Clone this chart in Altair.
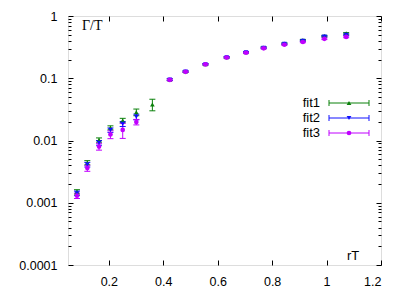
import altair as alt
import pandas as pd

# ---- data ----
rT = [0.083, 0.121, 0.164, 0.206, 0.251, 0.301, 0.36, 0.424, 0.482, 0.555,
      0.633, 0.704, 0.769, 0.845, 0.913, 0.992, 1.072]
fit1 = [0.00150, 0.0044, 0.0102, 0.0160, 0.0210, 0.0285, 0.038, 0.095, 0.128, 0.168,
        0.217, 0.262, 0.312, 0.362, 0.410, 0.478, 0.527]
fit1_err = [0.00012, 0.00035, 0.0008, 0.0012, 0.0017, 0.0035, 0.008, 0.003, 0.003, 0.004,
            0.005, 0.006, 0.007, 0.008, 0.010, 0.012, 0.014]
fit2 = [0.00142, 0.0041, 0.0092, 0.0147, 0.0185, 0.0240, None, 0.095, 0.128, 0.168,
        0.217, 0.261, 0.310, 0.358, 0.400, 0.470, 0.498]
fit2_err = [0.00012, 0.00035, 0.0008, 0.0012, 0.0017, 0.0025, None, 0.003, 0.003, 0.004,
            0.005, 0.006, 0.007, 0.008, 0.010, 0.012, 0.014]
fit3 = [0.00130, 0.0036, 0.0080, 0.0125, 0.0148, 0.0198, None, 0.094, 0.127, 0.167,
        0.215, 0.257, 0.302, 0.345, 0.382, 0.430, 0.462]
fit3_err = [0.00013, 0.0004, 0.0010, 0.0018, 0.0040, 0.0020, None, 0.003, 0.003, 0.004,
            0.005, 0.006, 0.007, 0.008, 0.010, 0.012, 0.014]

series = ["fit1", "fit2", "fit3"]
colors = ["#0a800a", "#1010ff", "#c000ff"]
shapes = ["triangle-up", "triangle-down", "circle"]

x_ticks = [0.2, 0.4, 0.6, 0.8, 1.0, 1.2]
y_ticks = [0.0001, 0.001, 0.01, 0.1, 1]
y_minor = [k * d for d in [0.0001, 0.001, 0.01, 0.1] for k in range(2, 10)]

rows = []
for name, vals, errs in zip(series, [fit1, fit2, fit3], [fit1_err, fit2_err, fit3_err]):
    for x, v, e in zip(rT, vals, errs):
        if v is None:
            continue
        rows.append({"series": name, "x": x, "y": v, "lo": v - e, "hi": v + e})
df = pd.DataFrame(rows)

W, H = 313, 249
xs = alt.Scale(domain=[0.05, 1.2], nice=False, zero=False)
ys = alt.Scale(type="log", domain=[0.0001, 1], nice=False)
cs = alt.Scale(domain=series, range=colors)
ss = alt.Scale(domain=series, range=shapes)

base = alt.Chart(df)

def X(field="x", axis=None):
    return alt.X(f"{field}:Q", scale=xs, axis=axis)

def Y(field="y", axis=None):
    return alt.Y(f"{field}:Q", scale=ys, axis=axis)

color = alt.Color("series:N", scale=cs, legend=None)

bars = base.mark_rule(strokeWidth=1).encode(x=X(), y=Y("lo"), y2="hi", color=color)
cap_lo = base.mark_rule(strokeWidth=1, xOffset=-3, x2Offset=3).encode(
    x=X(), x2="x", y=Y("lo"), color=color)
cap_hi = base.mark_rule(strokeWidth=1, xOffset=-3, x2Offset=3).encode(
    x=X(), x2="x", y=Y("hi"), color=color)
pts = base.mark_point(filled=True, size=22, opacity=1).encode(
    x=X(), y=Y(), color=color,
    shape=alt.Shape("series:N", scale=ss, legend=None))

lab = dict(labelFont="Liberation Sans", labelFontSize=12.5, labelColor="black",
           tickColor="black", tickWidth=1, domain=False, grid=False, title=None)

def axis_layer(xaxis=None, yaxis=None):
    return base.mark_point(opacity=0).encode(x=X(axis=xaxis), y=Y(axis=yaxis))

ax_bottom = axis_layer(xaxis=alt.Axis(orient="bottom", values=x_ticks, offset=-5, tickSize=5,
                                      labelPadding=10, format="~g", **lab))
ax_top = axis_layer(xaxis=alt.Axis(orient="top", values=x_ticks, offset=-5, tickSize=5,
                                   labels=False, **lab))
ax_left = axis_layer(yaxis=alt.Axis(orient="left", values=y_ticks, offset=-5, tickSize=5,
                                    labelPadding=11, format="~g", **lab))
ax_left_m = axis_layer(yaxis=alt.Axis(orient="left", values=y_minor, offset=-3, tickSize=3,
                                      labels=False, **lab))
ax_right = axis_layer(yaxis=alt.Axis(orient="right", values=y_ticks, offset=-5, tickSize=5,
                                     labels=False, **lab))
ax_right_m = axis_layer(yaxis=alt.Axis(orient="right", values=y_minor, offset=-3, tickSize=3,
                                       labels=False, **lab))

one = alt.Chart(pd.DataFrame({"t": [0]}))
ylabel = one.mark_text(text="Γ/T", font="Liberation Serif", fontSize=14, align="left",
                       baseline="alphabetic", color="black").encode(x=alt.value(14), y=alt.value(14))
xlabel = one.mark_text(text="rT", font="Liberation Sans", fontSize=13, align="left",
                       baseline="alphabetic", color="black").encode(x=alt.value(279), y=alt.value(244))

legend_layers = []
for i, (name, col, shp) in enumerate(zip(series, colors, shapes)):
    yy = 87 + 15 * i
    d = alt.Chart(pd.DataFrame({"label": [name]}))
    legend_layers += [
        d.mark_text(font="Liberation Sans", fontSize=13, align="right", baseline="middle",
                    color="black").encode(text="label:N", x=alt.value(252), y=alt.value(yy)),
        d.mark_rule(color=col, strokeWidth=1).encode(x=alt.value(261), x2=alt.value(301), y=alt.value(yy)),
        d.mark_rule(color=col, strokeWidth=1).encode(x=alt.value(261), y=alt.value(yy - 3), y2=alt.value(yy + 3)),
        d.mark_rule(color=col, strokeWidth=1).encode(x=alt.value(301), y=alt.value(yy - 3), y2=alt.value(yy + 3)),
        d.mark_point(filled=True, size=22, opacity=1, color=col, shape=shp).encode(
            x=alt.value(281), y=alt.value(yy)),
    ]

chart = alt.layer(
    ax_bottom, ax_top, ax_left, ax_left_m, ax_right, ax_right_m,
    bars, cap_lo, cap_hi, pts, ylabel, xlabel, *legend_layers
).resolve_axis(x="independent", y="independent").properties(
    width=W, height=H,
    autosize=alt.AutoSizeParams(type="none"),
    padding={"left": 60, "top": 8, "right": 9, "bottom": 27},
).configure_view(stroke="black", strokeWidth=1).configure(background="white")

chart.save("out.html", embed_options={"renderer": "svg", "actions": False})
